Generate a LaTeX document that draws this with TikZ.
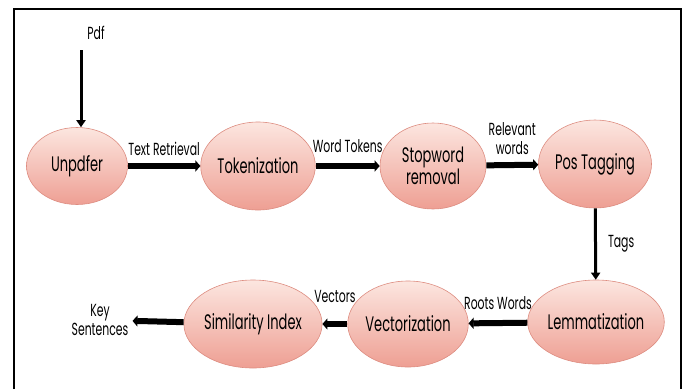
\documentclass[tikz,border=0pt]{standalone}
\usepackage{fontspec}
\setmainfont{Poppins}[FakeStretch=0.62]
\usetikzlibrary{shapes.geometric,arrows.meta}
\definecolor{pinktop}{HTML}{FCE6E0}
\definecolor{pinkbot}{HTML}{EE9F93}
\definecolor{pinkrim}{HTML}{DD8C80}
\begin{document}
\begin{tikzpicture}[x=1pt,y=-1pt,
  proc/.style={ellipse,draw=pinkrim,line width=0.6pt,top color=pinktop,bottom color=pinkbot,
    inner sep=0pt,minimum width=106pt,minimum height=86pt,font=\fontsize{21}{22}\selectfont,align=center},
  lbl/.style={inner sep=0pt,font=\fontsize{17.5}{19}\selectfont,align=center},
  flow/.style={line width=6pt,-{Triangle[length=5pt,width=11pt]}},
  feed/.style={line width=3pt,-{Triangle[length=7pt,width=9pt]}}]
\useasboundingbox(0,0)rectangle(688,389);
\draw[line width=2.5pt](14,389)--(14,9)--(681,9)--(681,389);
\node[proc,minimum width=101pt,minimum height=77pt](unp)at(77,166){Unpdfer};
\node[proc,minimum height=88pt](tok)at(258,166){Tokenization};
\node[proc](stop)at(433,166){Stopword\\removal};
\node[proc,minimum height=88pt](pos)at(595,164){Pos Tagging};
\node[proc,minimum width=111pt,minimum height=84pt](lem)at(596,322){Lemmatization};
\node[proc](vec)at(408,324){Vectorization};
\node[proc,minimum height=88pt](sim)at(253,324){Similarity Index};
\node[lbl](pdf)at(96,33){Pdf};
\node[lbl,inner sep=4pt](key)at(100,320){Key\\Sentences};
\coordinate(src)at(81,50);
\draw[feed](src)--(src|-unp.north);
\draw[flow](unp)--(tok)node[lbl,midway,above=7pt]{Text Retrieval};
\draw[flow](tok)--(stop)node[lbl,midway,above=10pt]{Word Tokens};
\draw[flow](stop)--(pos)node[lbl,midway,above=7pt]{Relevant\\words};
\draw[feed](pos)--(lem)node[lbl,midway,right=11pt]{Tags};
\draw[flow](lem)--(vec)node[lbl,midway,above=10pt]{Roots Words};
\draw[flow](vec)--(sim)node[lbl,midway,above=18pt]{Vectors};
\draw[flow](sim)--(key);
\end{tikzpicture}
\end{document}
